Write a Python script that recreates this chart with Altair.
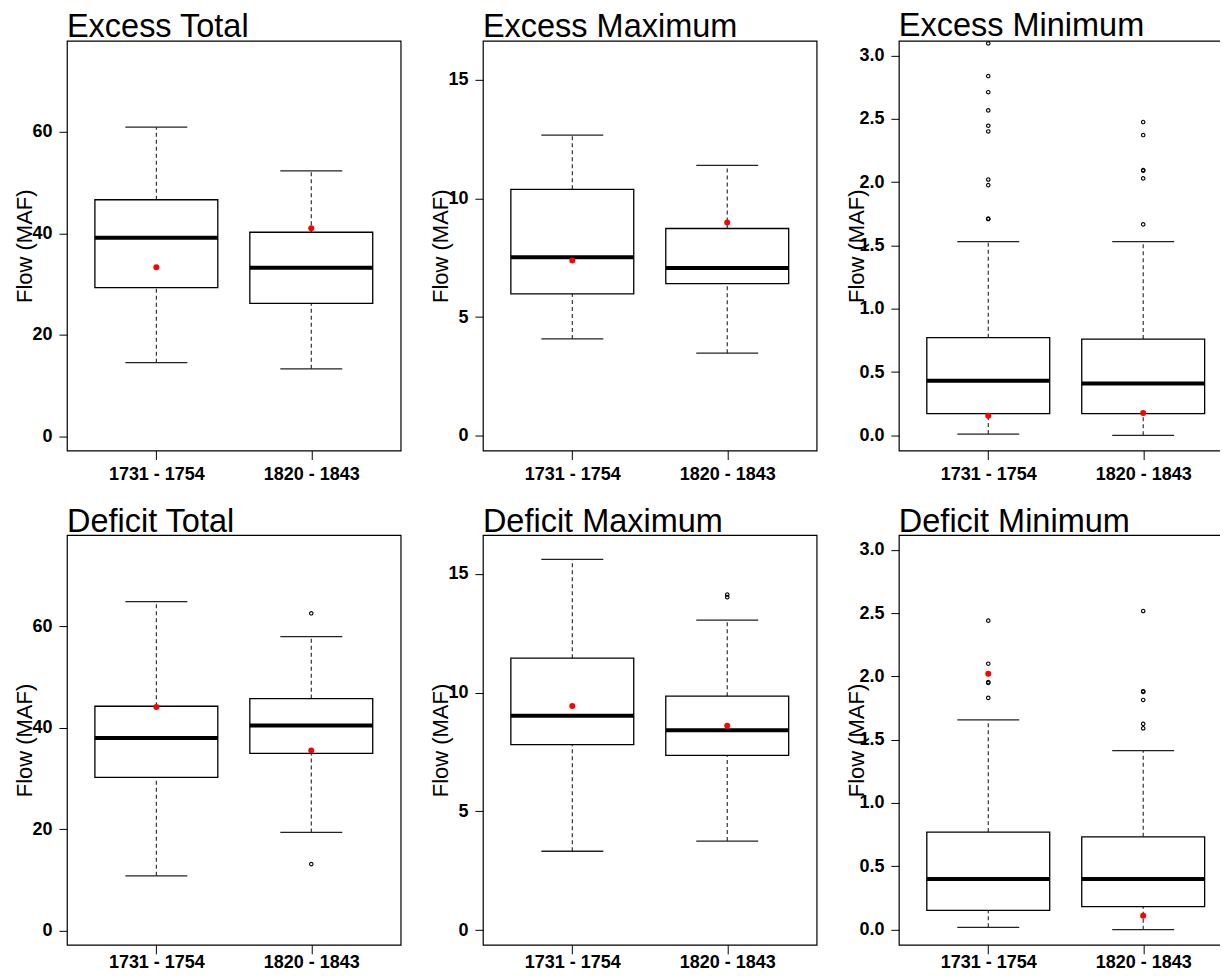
import altair as alt
import pandas as pd

GROUPS = ["1731 - 1754", "1820 - 1843"]
TITLES = ["Excess Total", "Excess Maximum", "Excess Minimum",
          "Deficit Total", "Deficit Maximum", "Deficit Minimum"]

# box statistics per panel, one value per group
LO = {
    "Excess Total": [14.5, 13.3], "Excess Maximum": [4.08, 3.48], "Excess Minimum": [0.01, 0.0],
    "Deficit Total": [10.8, 19.35], "Deficit Maximum": [3.32, 3.75], "Deficit Minimum": [0.018, 0.0],
}
Q1 = {
    "Excess Total": [29.3, 26.2], "Excess Maximum": [5.98, 6.41], "Excess Minimum": [0.171, 0.171],
    "Deficit Total": [30.2, 34.9], "Deficit Maximum": [7.81, 7.36], "Deficit Minimum": [0.152, 0.181],
}
MED = {
    "Excess Total": [39.1, 33.2], "Excess Maximum": [7.52, 7.07], "Excess Minimum": [0.432, 0.41],
    "Deficit Total": [37.96, 40.4], "Deficit Maximum": [9.03, 8.42], "Deficit Minimum": [0.40, 0.40],
}
Q3 = {
    "Excess Total": [46.6, 40.2], "Excess Maximum": [10.38, 8.73], "Excess Minimum": [0.771, 0.76],
    "Deficit Total": [44.2, 45.7], "Deficit Maximum": [11.45, 9.85], "Deficit Minimum": [0.77, 0.733],
}
HI = {
    "Excess Total": [60.9, 52.3], "Excess Maximum": [12.66, 11.39], "Excess Minimum": [1.53, 1.53],
    "Deficit Total": [64.8, 57.9], "Deficit Maximum": [15.61, 13.05], "Deficit Minimum": [1.656, 1.414],
}
OBS = {
    "Excess Total": [33.3, 41.0], "Excess Maximum": [7.38, 8.98], "Excess Minimum": [0.155, 0.176],
    "Deficit Total": [44.05, 35.5], "Deficit Maximum": [9.44, 8.61], "Deficit Minimum": [2.02, 0.11],
}
OUTLIERS = {
    "Excess Total": [[], []],
    "Excess Maximum": [[], []],
    "Excess Minimum": [[3.095, 2.837, 2.71, 2.566, 2.445, 2.40, 2.02, 1.976, 1.708, 1.712],
                       [2.474, 2.371, 2.09, 2.095, 2.029, 1.666]],
    "Deficit Total": [[], [62.5, 13.1]],
    "Deficit Maximum": [[], [14.13, 14.02]],
    "Deficit Minimum": [[2.44, 2.10, 1.948, 1.955, 1.83],
                        [2.516, 1.877, 1.883, 1.814, 1.625, 1.59]],
}
DOMAINS = {
    "Excess Total": [-2.8, 77.9], "Deficit Total": [-2.8, 77.9],
    "Excess Maximum": [-0.62, 16.63], "Deficit Maximum": [-0.62, 16.63],
    "Excess Minimum": [-0.12, 3.115], "Deficit Minimum": [-0.12, 3.115],
}
TICKS = {
    "Excess Total": [0, 20, 40, 60], "Deficit Total": [0, 20, 40, 60],
    "Excess Maximum": [0, 5, 10, 15], "Deficit Maximum": [0, 5, 10, 15],
    "Excess Minimum": [0, 0.5, 1, 1.5, 2, 2.5, 3], "Deficit Minimum": [0, 0.5, 1, 1.5, 2, 2.5, 3],
}
FORMATS = {
    "Excess Total": "d", "Deficit Total": "d",
    "Excess Maximum": "d", "Deficit Maximum": "d",
    "Excess Minimum": ".1f", "Deficit Minimum": ".1f",
}

FONT = "Liberation Sans"
W, H = 334, 410
BOX = 123
CAP = 62


def panel(name, bottom_row):
    stats = pd.DataFrame({
        "group": GROUPS, "lo": LO[name], "q1": Q1[name], "med": MED[name],
        "q3": Q3[name], "hi": HI[name], "obs": OBS[name],
    })
    rows = []
    for g, vals in zip(GROUPS, OUTLIERS[name]):
        for v in vals:
            rows.append({"group": g, "value": v})
    outl = pd.DataFrame(rows, columns=["group", "value"])

    xscale = alt.Scale(type="point", domain=GROUPS, padding=0.577)
    yscale = alt.Scale(domain=DOMAINS[name], nice=False, zero=False)
    xenc = alt.X("group:N", scale=xscale, sort=GROUPS,
                 axis=alt.Axis(title=None, labelAngle=0, domain=False, grid=False,
                               ticks=True, tickSize=9, tickColor="black", tickWidth=1,
                               labelFont=FONT, labelFontSize=18, labelFontWeight="bold",
                               labelColor="black", labelPadding=0 if bottom_row else 6))
    yaxis = alt.Axis(title="Flow (MAF)", values=TICKS[name], format=FORMATS[name],
                     domain=False, grid=False, tickSize=8, tickColor="black", tickWidth=1,
                     labelFont=FONT, labelFontSize=18, labelFontWeight="bold",
                     labelColor="black", labelPadding=7,
                     titleFont=FONT, titleFontSize=22, titleFontWeight="normal",
                     titleColor="black", titleX=-42, titleY=H / 2,
                     titleAngle=270, titleAlign="center", titleBaseline="middle")

    base = alt.Chart(stats)
    dash = [4, 3]
    wlo = base.mark_rule(color="#222", strokeWidth=1.1, strokeDash=dash).encode(
        x=xenc, y=alt.Y("lo:Q", scale=yscale, axis=yaxis), y2="q1:Q")
    whi = base.mark_rule(color="#222", strokeWidth=1.1, strokeDash=dash).encode(
        x=xenc, y=alt.Y("q3:Q", scale=yscale), y2="hi:Q")
    box = base.mark_bar(size=BOX, fill="white", stroke="black", strokeWidth=1.3,
                        opacity=1).encode(
        x=xenc, y=alt.Y("q1:Q", scale=yscale), y2="q3:Q")
    med = base.mark_tick(size=BOX, thickness=4, color="black", opacity=1).encode(
        x=xenc, y=alt.Y("med:Q", scale=yscale))
    caplo = base.mark_tick(size=CAP, thickness=1.3, color="#222", opacity=1).encode(
        x=xenc, y=alt.Y("lo:Q", scale=yscale))
    caphi = base.mark_tick(size=CAP, thickness=1.3, color="#222", opacity=1).encode(
        x=xenc, y=alt.Y("hi:Q", scale=yscale))
    obs = base.mark_circle(size=36, color="#ff0000", opacity=1).encode(
        x=xenc, y=alt.Y("obs:Q", scale=yscale))
    layers = [wlo, whi, box, med, caplo, caphi]
    if len(outl):
        pts = alt.Chart(outl).mark_point(shape="circle", size=12, filled=False,
                                         color="black", strokeWidth=1.1, opacity=1).encode(
            x=xenc, y=alt.Y("value:Q", scale=yscale))
        layers.append(pts)
    layers.append(obs)
    return alt.layer(*layers).properties(
        width=W, height=H,
        title=alt.TitleParams(name, anchor="start", frame="group", font=FONT, fontSize=32.5,
                              fontWeight="normal", color="black",
                              baseline="alphabetic", offset=-29),
    )


chart = alt.concat(*[panel(t, i >= 3) for i, t in enumerate(TITLES)], columns=3,
                   spacing={"row": 84.7, "column": 82.3}, bounds="flush").properties(
    padding={"left": 5, "top": 0.5, "right": -14, "bottom": -4},
    background="white",
).configure_view(stroke="black", strokeWidth=1.2)

chart.save("out.html", embed_options={"renderer": "svg", "actions": False})
